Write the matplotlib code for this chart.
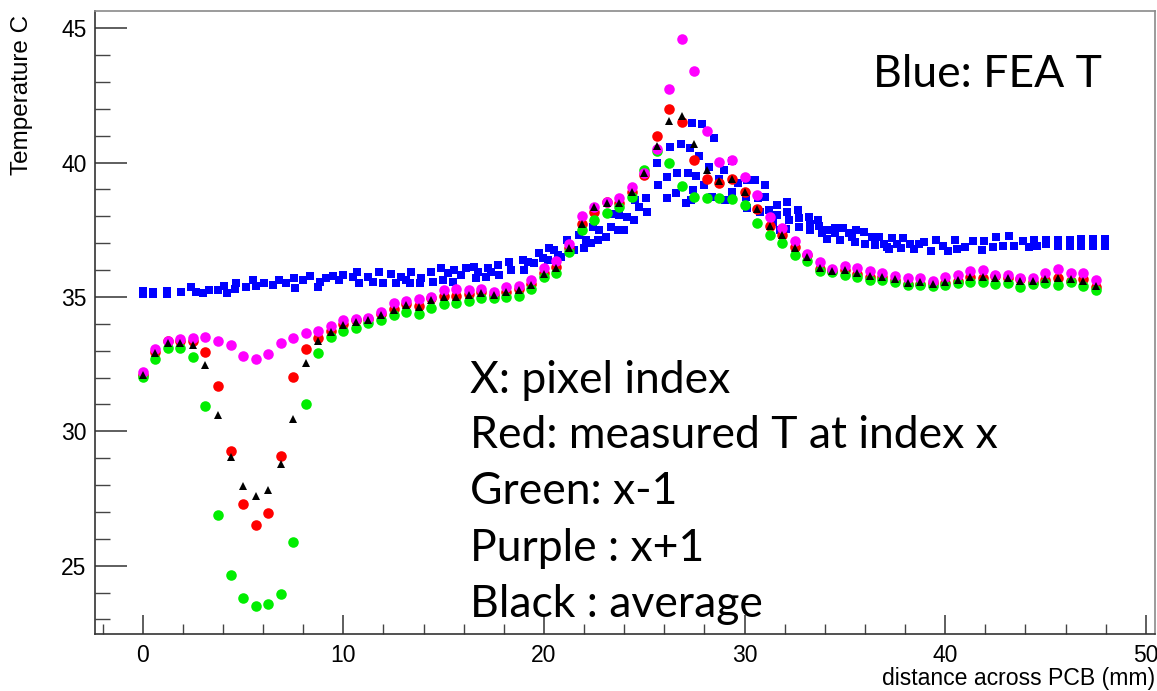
import matplotlib
matplotlib.use("Agg")
import matplotlib.pyplot as plt
from matplotlib.ticker import MultipleLocator

# ---- measured series (pixel index spacing 0.625 mm) ----
pixel_pitch = 0.625
purple_T = [32.19, 33.06, 33.38, 33.44, 33.46, 33.50, 33.36, 33.22, 32.82, 32.68,
            32.87, 33.30, 33.46, 33.65, 33.74, 33.92, 34.14, 34.17, 34.21, 34.44,
            34.76, 34.85, 34.91, 35.01, 35.26, 35.30, 35.26, 35.30, 35.20, 35.36,
            35.41, 35.63, 36.07, 36.32, 36.97, 38.00, 38.36, 38.54, 38.69, 39.10,
            39.62, 40.52, 42.72, 44.59, 43.40, 41.17, 40.03, 40.09, 39.47, 38.78,
            37.99, 37.58, 37.09, 36.60, 36.30, 36.04, 36.15, 36.08, 35.96, 35.88,
            35.79, 35.69, 35.72, 35.58, 35.75, 35.81, 35.95, 36.01, 35.81, 35.82,
            35.72, 35.70, 35.91, 36.04, 35.91, 35.91, 35.64]
black_T = [32.10, 32.91, 33.28, 33.30, 33.22, 32.47, 30.61, 29.04, 27.97, 27.58,
           27.80, 28.79, 30.45, 32.56, 33.38, 33.71, 33.96, 34.08, 34.15, 34.33,
           34.53, 34.69, 34.63, 34.89, 34.99, 35.01, 35.07, 35.14, 35.07, 35.17,
           35.26, 35.45, 35.86, 36.08, 36.81, 37.71, 38.33, 38.48, 38.51, 38.89,
           39.62, 40.63, 41.55, 41.74, 40.71, 39.72, 39.30, 39.38, 38.92, 38.26,
           37.64, 37.29, 36.84, 36.50, 36.08, 35.98, 35.99, 35.88, 35.77, 35.75,
           35.65, 35.51, 35.54, 35.50, 35.56, 35.64, 35.75, 35.75, 35.72, 35.69,
           35.60, 35.58, 35.66, 35.69, 35.66, 35.60, 35.41]
green_T = [32.01, 32.70, 33.09, 33.09, 32.78, 30.95, 26.90, 24.67, 23.80, 23.51,
           23.59, 23.95, 25.87, 31.01, 32.93, 33.52, 33.74, 33.85, 34.05, 34.13,
           34.33, 34.45, 34.36, 34.58, 34.74, 34.76, 34.86, 34.97, 34.95, 35.01,
           35.05, 35.29, 35.73, 35.90, 36.66, 37.50, 37.86, 38.11, 38.36, 38.71,
           39.73, 40.43, 39.99, 39.13, 38.71, 38.70, 38.70, 38.65, 38.43, 37.76,
           37.30, 37.00, 36.58, 36.34, 35.98, 35.94, 35.82, 35.73, 35.63, 35.63,
           35.55, 35.45, 35.45, 35.41, 35.44, 35.51, 35.56, 35.56, 35.47, 35.51,
           35.38, 35.50, 35.51, 35.45, 35.54, 35.41, 35.26]
red_T = [32.10, 32.97, 33.37, 33.37, 33.38, 32.96, 31.68, 29.27, 27.30, 26.52,
         26.97, 29.10, 32.02, 33.07, 33.49, 33.75, 34.01, 34.15, 34.19, 34.38,
         34.55, 34.74, 34.66, 34.98, 35.04, 35.05, 35.10, 35.17, 35.09, 35.20,
         35.30, 35.48, 35.90, 36.10, 36.84, 37.72, 38.15, 38.55, 38.50, 38.91,
         39.55, 40.99, 42.01, 41.52, 40.09, 39.39, 39.25, 39.39, 38.89, 38.26,
         37.64, 37.30, 36.86, 36.55, 36.05, 35.96, 36.00, 35.86, 35.75, 35.74,
         35.63, 35.48, 35.50, 35.51, 35.52, 35.60, 35.74, 35.72, 35.78, 35.72,
         35.66, 35.56, 35.62, 35.70, 35.60, 35.66, 35.38]
pixel_x = [i * pixel_pitch for i in range(len(red_T))]

# ---- FEA series ----
fea_x = [0.00, 0.00, 0.53, 0.53, 1.19, 1.19, 1.89, 2.39, 2.65, 3.00, 3.30, 3.76, 4.04, 4.18,
         4.59, 4.64, 5.14, 5.50, 5.67, 6.03, 6.47, 6.80, 7.16, 7.53, 7.58, 7.99, 8.32, 8.74,
         8.82, 9.15, 9.48, 9.80, 9.98, 10.48, 10.68, 10.78, 11.22, 11.47, 11.80, 11.97, 12.39,
         12.64, 12.89, 13.13, 13.30, 13.38, 13.80, 13.88, 14.38, 14.46, 14.88, 14.96, 15.20,
         15.45, 15.54, 15.87, 16.12, 16.53, 16.62, 16.70, 17.11, 17.19, 17.36, 17.69, 17.78,
         18.27, 18.36, 18.94, 19.02, 19.18, 19.52, 19.77, 19.93, 20.18, 20.26, 20.51, 20.68,
         20.85, 21.17, 21.26, 21.51, 21.76, 22.00, 22.09, 22.34, 22.42, 22.67, 22.75, 23.08,
         23.33, 23.40, 23.67, 23.75, 24.00, 24.16, 24.49, 24.55, 24.74, 25.07, 25.12, 25.65,
         25.70, 26.15, 26.15, 26.28, 26.60, 26.64, 26.82, 27.08, 27.19, 27.27, 27.31, 27.39,
         27.43, 27.56, 27.73, 27.86, 27.97, 28.22, 28.38, 28.47, 28.72, 28.97, 29.02, 29.35,
         29.38, 29.66, 30.05, 30.10, 30.13, 30.53, 30.65, 30.79, 31.01, 31.00, 31.21, 31.41,
         31.62, 31.62, 31.78, 32.07, 32.12, 32.12, 32.24, 32.67, 32.70, 32.70, 33.23, 33.25,
         33.28, 33.66, 33.70, 33.86, 34.11, 34.11, 34.49, 34.53, 34.78, 34.90, 35.19, 35.35,
         35.50, 35.54, 35.94, 36.00, 36.35, 36.52, 36.70, 36.94, 37.10, 37.19, 37.33, 37.61,
         37.78, 37.90, 38.23, 38.45, 38.70, 38.95, 39.28, 39.53, 39.87, 40.12, 40.50, 40.61,
         41.00, 41.37, 41.84, 41.95, 42.40, 42.54, 42.90, 43.17, 43.42, 43.87, 44.17, 44.45,
         44.57, 45.04, 45.04, 45.62, 45.62, 46.21, 46.21, 46.79, 46.79, 47.38, 47.38, 47.96,
         47.96]
fea_T = [35.10, 35.22, 35.10, 35.20, 35.10, 35.22, 35.20, 35.36, 35.20, 35.16, 35.26, 35.26, 35.41, 35.16,
         35.29, 35.51, 35.36, 35.63, 35.41, 35.53, 35.45, 35.63, 35.51, 35.69, 35.32, 35.63, 35.78, 35.36,
         35.57, 35.69, 35.78, 35.63, 35.82, 35.75, 35.94, 35.53, 35.75, 35.57, 35.94, 35.51, 35.85,
         35.53, 35.75, 35.63, 35.51, 35.94, 35.51, 35.69, 35.94, 35.57, 36.07, 35.63, 35.88,
         35.57, 36.00, 35.82, 36.07, 36.13, 35.69, 35.94, 35.75, 36.07, 35.94, 36.19, 35.82,
         36.31, 36.00, 36.38, 36.00, 36.31, 36.25, 36.62, 36.44, 36.38, 36.81, 36.75, 36.56,
         36.50, 37.12, 36.93, 36.75, 37.30, 36.81, 37.12, 37.00, 37.61, 37.12, 37.49, 37.24,
         37.61, 38.09, 37.49, 38.05, 37.49, 37.99, 37.86, 38.61, 38.36, 38.67, 38.17, 39.97,
         39.16, 39.47, 38.67, 40.59, 38.85, 39.62, 40.71, 38.48, 39.62, 40.53, 38.61, 41.46,
         38.98, 39.51, 40.24, 41.42, 39.16, 39.84, 38.73, 40.92, 39.38, 39.72, 38.61, 40.07,
         38.91, 39.25, 38.72, 38.30, 39.35, 39.35, 38.68, 38.17, 39.16, 38.71, 38.23, 37.80,
         38.42, 38.05, 37.49, 37.52, 38.54, 38.17, 37.86, 38.23, 37.93, 37.61, 37.99, 37.71,
         37.49, 37.86, 37.64, 37.37, 37.49, 37.14, 37.37, 37.55, 37.12, 37.55, 37.37, 37.24,
         37.03, 37.49, 37.41, 36.97, 37.24, 36.93, 37.24, 36.97, 36.87, 36.78, 37.20, 36.97,
         36.82, 37.20, 36.97, 36.78, 36.97, 37.03, 36.72, 37.12, 36.91, 36.72, 37.12, 36.78,
         36.85, 37.07, 36.75, 37.10, 36.85, 37.22, 36.91, 37.25, 36.91, 37.10, 36.85, 37.12,
         36.91, 37.12, 36.98, 37.12, 36.88, 37.12, 36.88, 37.15, 36.90, 37.15, 36.90, 37.15,
         36.90]

x_ticks = [0, 10, 20, 30, 40, 50]
y_ticks = [25, 30, 35, 40, 45]
x_title = "distance across PCB (mm)"
y_title = "Temperature C"
legend_lines = ["X: pixel index", "Red: measured T at index x", "Green: x-1",
                "Purple : x+1", "Black : average"]
blue_note = "Blue: FEA T"

W, H = 1157, 691
fig = plt.figure(figsize=(W / 100, H / 100), dpi=100)
ax = fig.add_axes([95 / W, 1 - 634 / H, (1155 - 95) / W, (634 - 11) / H])
ax.set_xlim(-2.38, 50.46)
ax.set_ylim(22.46, 45.64)

ax.plot(fea_x, fea_T, ls="none", marker="s", ms=5.8, mfc="#0000ff", mec="#0000ff", mew=0)
ax.plot(pixel_x, red_T, ls="none", marker="o", ms=7.6, mfc="#ff0000", mec="#ff0000", mew=0)
ax.plot(pixel_x, green_T, ls="none", marker="o", ms=7.6, mfc="#00ee00", mec="#00ee00", mew=0)
ax.plot(pixel_x, purple_T, ls="none", marker="o", ms=7.6, mfc="#ff00ff", mec="#ff00ff", mew=0)
ax.plot(pixel_x, black_T, ls="none", marker="^", ms=6.2, mfc="black", mec="black", mew=0)

tick_font = {"family": "Liberation Sans", "size": 16.5}
ax.set_xticks(x_ticks)
ax.set_yticks(y_ticks)
ax.set_xticklabels([str(t) for t in x_ticks], fontdict=tick_font)
ax.set_yticklabels([str(t) for t in y_ticks], fontdict=tick_font)
ax.xaxis.set_minor_locator(MultipleLocator(2))
ax.yaxis.set_minor_locator(MultipleLocator(1))
ax.tick_params(axis="x", which="major", direction="in", length=14, width=1.1, color="#333333", pad=7,
               top=False)
ax.tick_params(axis="x", which="minor", direction="in", length=7, width=1.0, color="#444444", top=False)
ax.tick_params(axis="y", which="major", direction="in", length=23, width=1.1, color="#333333", pad=6,
               right=False)
ax.tick_params(axis="y", which="minor", direction="in", length=11, width=1.0, color="#444444", right=False)
for s in ("left", "bottom"):
    ax.spines[s].set_color("#333333")
    ax.spines[s].set_linewidth(1.2)
for s in ("top", "right"):
    ax.spines[s].set_color("#8a8a8a")
    ax.spines[s].set_linewidth(1.2)

fig.text(22 / W, 1 - 15 / H, y_title, rotation=90, ha="center", va="top",
         family="Liberation Sans", size=17.5)
fig.text(1155 / W, 1 - 685 / H, x_title, ha="right", va="baseline",
         family="Liberation Sans", size=16.6)

note_font = dict(family="Lato", size=32, color="black")
fig.text(873 / W, 1 - 87 / H, blue_note, ha="left", va="baseline", **note_font)
baselines = [393, 448, 504, 561, 617]
for line, yb in zip(legend_lines, baselines):
    fig.text(470 / W, 1 - yb / H, line, ha="left", va="baseline", **note_font)

fig.savefig("out.png", dpi=100)
